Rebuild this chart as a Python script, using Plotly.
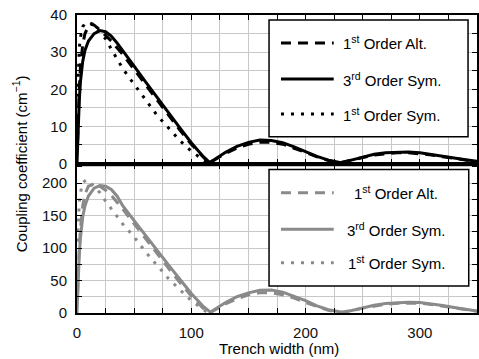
import plotly.graph_objects as go

# ---------------- data ----------------
# Top panel (black)
top_alt_x = [0.5, 1, 2, 3, 5, 7, 10, 12, 15, 20, 25, 30, 40, 50, 60, 70, 80, 90, 100, 110, 115,
             120, 130, 140, 150, 160, 170, 180, 190, 200, 210, 220, 230, 240, 250, 260, 270, 280,
             290, 300, 310, 320, 330, 340, 350]
top_alt_y = [6, 12, 20, 26, 32, 35, 37, 37.5, 37.3, 36.0, 34.6, 33.0, 29.4, 25.3, 21.2, 17.0, 13.0,
             9.0, 5.2, 1.8, 0.3, 0.9, 2.7, 4.2, 5.2, 5.7, 5.7, 5.2, 4.2, 3.0, 1.8, 0.8, 0.2, 0.8,
             1.6, 2.3, 2.7, 2.9, 2.9, 2.7, 2.3, 1.8, 1.3, 0.9, 0.5]

top_sym3_x = [0, 1, 2, 3, 5, 7, 10, 15, 20, 25, 30, 35, 40, 50, 60, 70, 80, 90, 100, 110, 116,
              120, 130, 140, 150, 160, 170, 180, 190, 200, 210, 220, 231, 240, 250, 260, 270,
              280, 290, 300, 310, 320, 330, 340, 350]
top_sym3_y = [0, 10, 17, 22, 27.5, 30.5, 33, 35, 35.8, 35.5, 34.3, 32.5, 30.3, 26.2, 22.0, 17.8,
              13.7, 9.6, 5.6, 2.0, 0.3, 1.0, 3.0, 4.6, 5.7, 6.3, 6.2, 5.6, 4.5, 3.2, 1.9, 0.9, 0.2,
              0.9, 1.8, 2.5, 2.9, 3.1, 3.1, 2.9, 2.5, 2.0, 1.5, 1.0, 0.6]

top_sym1_x = [0.5, 1, 2, 3, 5, 7, 10, 14, 20, 25, 30, 35, 40, 45, 50, 60, 70, 80, 90, 100, 110, 114]
top_sym1_y = [18, 25, 31, 34, 36.8, 37.8, 38, 37.5, 35.5, 33.6, 30.8, 28.2, 25.6, 23.4, 21.4,
              17.2, 13.0, 9.6, 6.2, 3.3, 1.0, 0.2]

# Bottom panel (grey)
bot_alt_x = [0.5, 1, 2, 3, 5, 7, 10, 14, 20, 25, 30, 40, 50, 60, 70, 80, 90, 100, 110, 115,
             120, 130, 140, 150, 160, 170, 180, 190, 200, 210, 220, 230, 240, 250, 260, 270, 280,
             290, 300, 310, 320, 330, 340, 350]
bot_alt_y = [30, 60, 100, 130, 165, 183, 195, 198, 195, 189, 181, 160, 137, 114, 91, 69, 47, 26,
             8, 1, 4, 14, 22, 28, 31, 31, 28, 23, 16, 9.5, 4, 0.8, 3.5, 7.5, 11, 13.5, 15, 15.5,
             15, 13, 10.5, 7.8, 5, 2.6]

bot_sym3_x = [0, 1, 2, 3, 5, 7, 10, 15, 20, 25, 30, 35, 40, 50, 60, 70, 80, 90, 100, 110, 117,
              120, 130, 140, 150, 160, 170, 180, 190, 200, 210, 220, 233, 240, 250, 260, 270,
              280, 290, 300, 310, 320, 330, 340, 350]
bot_sym3_y = [0, 50, 90, 115, 148, 165, 180, 192, 196, 195, 190, 180, 165, 142, 119, 96, 74, 52,
              30, 11, 1, 5, 16, 25, 31, 35, 35.5, 32, 26, 19, 11, 5, 0.8, 4, 8.5, 12, 14.5, 16,
              16.5, 16, 14, 11.5, 8.5, 5.5, 3]

bot_sym1_x = [0.5, 1, 2, 3, 5, 8, 12, 16, 20, 25, 30, 35, 40, 45, 50, 60, 70, 80, 90, 100, 110, 114]
bot_sym1_y = [110, 140, 170, 185, 200, 205, 200, 193, 185, 172, 160, 148, 137, 127, 117, 94, 73,
              53, 36, 19, 6, 1]

legend_labels = ["1<sup>st</sup> Order Alt.", "3<sup>rd</sup> Order Sym.", "1<sup>st</sup> Order Sym."]
x_ticks = [0, 100, 200, 300]
top_y_ticks = [0, 10, 20, 30, 40]
bot_y_ticks = [0, 50, 100, 150, 200]

# ---------------- styling ----------------
W, H = 479, 359
ML, MR, MT, MB = 77, 0, 15, 46
PW, PH = W - ML - MR, H - MT - MB
FONT = "Liberation Sans, Arial, Helvetica, sans-serif"
BLACK = "#000000"
GREY = "#8a8a8a"
GRID = "#c8c8c8"
split = (313 - 163.5) / PH

DASHES = ["10px,7px", "solid", "3px,7px"]

def px_x(p):
    return (p - ML) / PW

def px_y(p):
    return (H - MB - p) / PH

fig = go.Figure()

series_top = [(top_alt_x, top_alt_y), (top_sym3_x, top_sym3_y), (top_sym1_x, top_sym1_y)]
series_bot = [(bot_alt_x, bot_alt_y), (bot_sym3_x, bot_sym3_y), (bot_sym1_x, bot_sym1_y)]

for (xs, ys), d, name in zip(series_top, DASHES, legend_labels):
    fig.add_trace(go.Scatter(x=xs, y=ys, mode="lines", name=name, xaxis="x2", yaxis="y2",
                             line=dict(color=BLACK, width=3, dash=d), showlegend=False))
for (xs, ys), d, name in zip(series_bot, DASHES, legend_labels):
    fig.add_trace(go.Scatter(x=xs, y=ys, mode="lines", name=name, xaxis="x", yaxis="y",
                             line=dict(color=GREY, width=3, dash=d), showlegend=False))

axis_common = dict(showline=True, linecolor=BLACK, linewidth=2, mirror="ticks",
                   ticks="inside", ticklen=5, tickcolor=BLACK, tickwidth=1,
                   showgrid=True, gridcolor=GRID, gridwidth=1, zeroline=False,
                   tickfont=dict(family=FONT, size=15, color="#111111"))

fig.update_layout(
    width=W, height=H, margin=dict(l=ML, r=MR, t=MT, b=MB),
    paper_bgcolor="white", plot_bgcolor="white",
    xaxis=dict(domain=[0, 1], anchor="y", range=[0, 350], tickvals=x_ticks,
               ticklabelstandoff=5,
               minor=dict(dtick=25, tick0=0, ticks="inside", ticklen=5, tickcolor=BLACK,
                          showgrid=True, gridcolor=GRID), **axis_common),
    xaxis2=dict(domain=[0, 1], anchor="y2", range=[0, 350], matches="x", tickvals=x_ticks,
                showticklabels=False,
                minor=dict(dtick=25, tick0=0, ticks="inside", ticklen=5, tickcolor=BLACK,
                           showgrid=True, gridcolor=GRID), **axis_common),
    yaxis=dict(domain=[0, split], anchor="x", range=[0, 230], tickvals=bot_y_ticks,
               ticklabelstandoff=5,
               minor=dict(dtick=25, tick0=0, ticks="inside", ticklen=5, tickcolor=BLACK,
                          showgrid=True, gridcolor=GRID), **axis_common),
    yaxis2=dict(domain=[split, 1], anchor="x2", range=[0, 40], tickvals=top_y_ticks,
                ticklabelstandoff=5,
                minor=dict(dtick=5, tick0=0, ticks="inside", ticklen=5, tickcolor=BLACK,
                           showgrid=True, gridcolor=GRID), **axis_common),
    showlegend=False,
)

shapes = []
annotations = []

# legend boxes (pixel geometry)
boxes = [
    dict(x0=270, x1=470, y0=20, y1=136.7, rows=[43, 79, 114], color=BLACK, align="left"),
    dict(x0=270, x1=470.7, y0=169.5, y1=286, rows=[192.7, 229.3, 262.7], color=GREY, align="center"),
]
for b in boxes:
    shapes.append(dict(type="rect", xref="paper", yref="paper",
                       x0=px_x(b["x0"]), x1=px_x(b["x1"]), y0=px_y(b["y1"]), y1=px_y(b["y0"]),
                       line=dict(color=BLACK, width=1.5), fillcolor="white", layer="above"))
    for ry, d, lab in zip(b["rows"], DASHES, legend_labels):
        shapes.append(dict(type="line", xref="paper", yref="paper",
                           x0=px_x(282), x1=px_x(335), y0=px_y(ry), y1=px_y(ry),
                           line=dict(color=b["color"], width=3, dash=d), layer="above"))
        if b["align"] == "left":
            annotations.append(dict(xref="paper", yref="paper", x=px_x(342), y=px_y(ry),
                                    xanchor="left", yanchor="middle", text=lab, showarrow=False,
                                    font=dict(family=FONT, size=15, color=BLACK)))
        else:
            annotations.append(dict(xref="paper", yref="paper", x=px_x(398), y=px_y(ry),
                                    xanchor="center", yanchor="middle", text=lab, showarrow=False,
                                    font=dict(family=FONT, size=15, color=BLACK)))

annotations.append(dict(xref="paper", yref="paper", x=px_x(280), y=px_y(348),
                        xanchor="center", yanchor="middle", text="Trench width (nm)",
                        showarrow=False, font=dict(family=FONT, size=15, color=BLACK)))
annotations.append(dict(xref="paper", yref="paper", x=px_x(19), y=px_y(164),
                        xanchor="center", yanchor="middle", textangle=-90,
                        text="Coupling coefficient (cm<sup>\u22121</sup>)",
                        showarrow=False, font=dict(family=FONT, size=15, color=BLACK)))

fig.update_layout(shapes=shapes, annotations=annotations)
fig.write_html("out.html")
